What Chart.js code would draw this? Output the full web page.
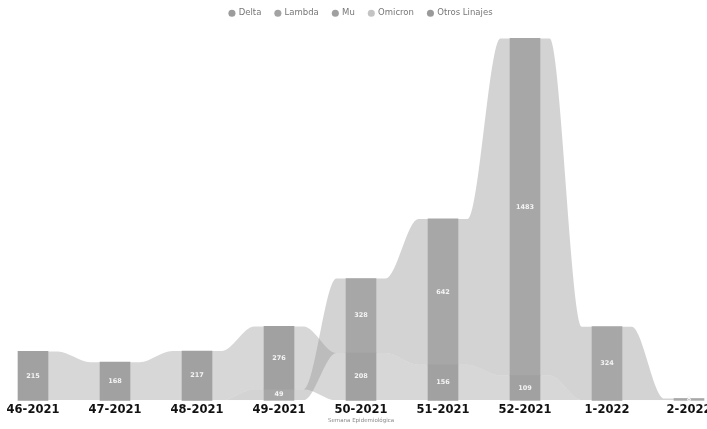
<!DOCTYPE html>
<html><head><meta charset="utf-8">
<script src="https://cdn.jsdelivr.net/npm/chart.js@4/dist/chart.umd.min.js"></script>
<style>html,body{margin:0;padding:0;background:#fff;overflow:hidden}
#wrap{width:724px;height:429px;position:relative}</style>
</head><body><div id="wrap"><canvas id="c"></canvas></div>
<script>
const categories = ['46-2021','47-2021','48-2021','49-2021','50-2021','51-2021','52-2021','1-2022','2-2022'];
const seriesNames = ['Delta','Lambda','Mu','Omicron','Otros Linajes'];
const delta   = [215,168,217,276,208,156,109,0,0];
const lambda  = [0,0,0,0,0,0,0,0,0];
const mu      = [0,0,0,0,0,0,0,0,0];
const omicron = [0,0,0,49,328,642,1483,324,8];
const otros   = [0,0,0,0,0,0,0,0,0];
const seriesValues = [delta, lambda, mu, omicron, otros];
const barColors = ['#a1a1a1','#999999','#a0a0a0','#a7a7a7','#9c9c9c'];
const legendColors = ['#9c9c9c','#a3a3a3','#a0a0a0','#c4c4c4','#9a9a9a'];
const ribbonColors = ['rgba(150,150,150,0.38)','rgba(150,150,150,0.40)','rgba(150,150,150,0.40)','rgba(150,150,150,0.42)','rgba(150,150,150,0.40)'];

// ranked stacking (ribbon chart: largest value on top)
const ranges = seriesValues.map(() => []);
categories.forEach((c, i) => {
  const order = seriesValues.map((v, s) => ({s, v: v[i]})).sort((a, b) => a.v - b.v);
  let acc = 0;
  order.forEach(o => { ranges[o.s][i] = [acc, acc + o.v]; acc += o.v; });
});

const datasets = [];
seriesNames.forEach((name, s) => {
  datasets.push({
    type: 'bar', label: name, xAxisID: 'x', yAxisID: 'y', order: 0,
    data: ranges[s].map(r => (r[1] > r[0] ? r : null)),
    backgroundColor: barColors[s], borderWidth: 0, grouped: false,
    barThickness: 30, clip: false
  });
});
const half = 0.3;
seriesNames.forEach((name, s) => {
  if (!seriesValues[s].some(v => v > 0)) return;
  const lo = [], hi = [];
  ranges[s].forEach((r, i) => {
    const left = i === 0 ? i - 0.2 : i - half;
    const right = i + half;
    lo.push({x: left, y: r[0]}, {x: right, y: r[0]});
    hi.push({x: left, y: r[1]}, {x: right, y: r[1]});
  });
  const loIndex = datasets.length;
  datasets.push({type: 'line', label: name + ' base', xAxisID: 'x2', yAxisID: 'y', order: 2,
    data: lo, borderWidth: 0, pointRadius: 0, fill: false, cubicInterpolationMode: 'monotone', clip: false,
    borderColor: 'rgba(0,0,0,0)'});
  datasets.push({type: 'line', label: name + ' ribbon', xAxisID: 'x2', yAxisID: 'y', order: 1,
    data: hi, borderWidth: 0, pointRadius: 0, fill: {target: loIndex}, backgroundColor: ribbonColors[s],
    cubicInterpolationMode: 'monotone', clip: false, borderColor: 'rgba(0,0,0,0)'});
});

const labelPlugin = {
  id: 'barLabels',
  afterDatasetsDraw(chart) {
    const ctx = chart.ctx;
    ctx.save();
    ctx.font = 'bold 6.5px "DejaVu Sans"';
    ctx.fillStyle = '#f4f4f4';
    ctx.textAlign = 'center';
    ctx.textBaseline = 'middle';
    chart.data.datasets.forEach((ds, di) => {
      if (ds.type !== 'bar') return;
      const meta = chart.getDatasetMeta(di);
      meta.data.forEach((el, i) => {
        const r = ds.data[i];
        if (!r) return;
        const v = r[1] - r[0];
        const p = el.getProps(['x', 'y', 'base'], true);
        ctx.fillText(String(v), p.x, (p.y + p.base) / 2);
      });
    });
    ctx.restore();
  }
};

new Chart(document.getElementById('c'), {
  data: {labels: categories, datasets},
  plugins: [labelPlugin],
  options: {
    responsive: true, maintainAspectRatio: false, animation: false,
    layout: {padding: {left: 33, right: 35, top: -5, bottom: 0}},
    plugins: {
      tooltip: {enabled: false},
      legend: {
        position: 'top',
        labels: {
          usePointStyle: true, pointStyle: 'circle', boxWidth: 5, boxHeight: 5,
          padding: 14, color: '#777', font: {size: 8.5, family: 'DejaVu Sans'},
          generateLabels: chart => seriesNames.map((n, s) => ({
            text: n, fillStyle: legendColors[s], strokeStyle: legendColors[s], lineWidth: 0,
            pointStyle: 'circle', datasetIndex: s, hidden: false, fontColor: '#777'
          }))
        }
      }
    },
    scales: {
      x: {
        type: 'category', offset: false,
        grid: {display: false, drawTicks: false}, border: {display: false},
        ticks: {color: '#111', font: {size: 11.5, weight: 'bold', family: 'DejaVu Sans', lineHeight: 1.05}, maxRotation: 0, autoSkip: false, padding: 4},
        title: {display: true, text: 'Semana Epidemiológica', color: '#888', font: {size: 5.5, family: 'DejaVu Sans', lineHeight: 1.2}, padding: {top: -3, bottom: 5}}
      },
      x2: {type: 'linear', min: 0, max: 8, display: false},
      y: {min: 0, max: 1640, display: false}
    }
  }
});
</script></body></html>
